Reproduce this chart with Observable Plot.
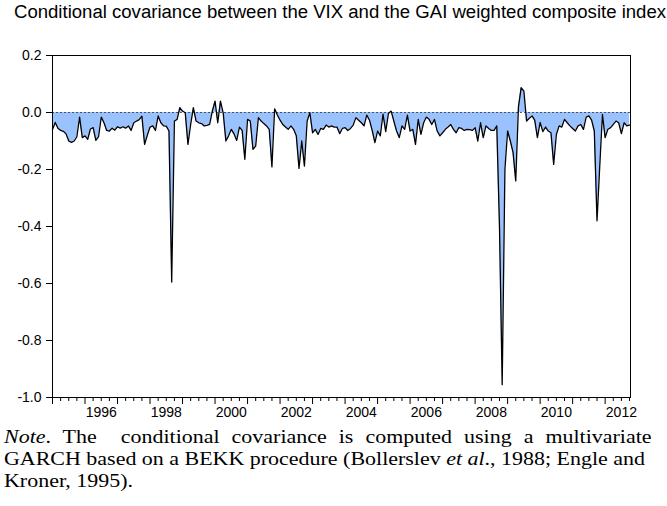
<!DOCTYPE html>
<html><head><meta charset="utf-8">
<script src="https://cdn.jsdelivr.net/npm/d3@7"></script>
<script src="https://cdn.jsdelivr.net/npm/@observablehq/plot@0.6"></script>
<style>
body{margin:0;background:#fff;width:667px;height:506px;position:relative;overflow:hidden;font-family:"Liberation Sans",Arial,sans-serif;}
#title{position:absolute;left:14px;top:2px;font-size:18px;white-space:nowrap;transform-origin:0 0;color:#000}
#chart{position:absolute;left:0;top:30px}
#note{position:absolute;left:4px;top:426px;font-family:"Liberation Serif","Times New Roman",serif;font-size:18px;line-height:22px;transform-origin:0 0;color:#000}
#note div{white-space:nowrap}
#note span.l{display:inline-block}
</style></head>
<body>
<div id="title">Conditional covariance between the VIX and the GAI weighted composite index</div>
<div id="chart"></div>
<div id="note">
<div><span class="l" id="n1"><i>Note</i>. The&nbsp; conditional covariance is computed using a multivariate</span></div>
<div><span class="l" id="n2">GARCH based on a BEKK procedure (Bollerslev <i>et al</i>., 1988; Engle and</span></div>
<div><span class="l" id="n3">Kroner, 1995).</span></div>
</div>
<script>
const startYear = 1995;
const covariance = [
 -0.06, -0.035, -0.055, -0.063, -0.066, -0.075, -0.1, -0.105, -0.1, -0.085,
 -0.016, -0.088, -0.082, -0.094, -0.058, -0.053, -0.098, -0.085, -0.016, -0.036,
 -0.063, -0.065, -0.055, -0.062, -0.05, -0.055, -0.05, -0.055, -0.047, -0.063,
 -0.036, -0.03, -0.025, -0.013, -0.112, -0.08, -0.051, -0.047, -0.063, -0.012,
 -0.036, -0.047, -0.048, -0.065, -0.595, -0.03, -0.024, 0.017, 0.005, -0.001,
 -0.112, -0.042, 0.017, -0.03, -0.036, -0.039, -0.047, -0.045, -0.042, 0.005,
 0.04, -0.036, 0.04, -0.001, -0.1, -0.082, -0.059, -0.075, -0.098, -0.051,
 -0.063, -0.164, -0.024,
 -0.03, -0.129, -0.118, -0.018, -0.03, -0.039, -0.047, -0.059, -0.191, 0.013,
 -0.009, -0.027, -0.042, -0.051, -0.059, -0.047, -0.059, -0.082, -0.196, -0.1,
 -0.188, -0.03, -0.001, -0.071, -0.059, -0.077, -0.056, -0.059, -0.044, -0.051,
 -0.047, -0.051, -0.051, -0.074, -0.056, -0.053, -0.063, -0.056, -0.044, -0.018,
 -0.027, -0.036, -0.047, -0.009, -0.027, -0.063, -0.106, -0.065, -0.082, -0.006,
 -0.067, -0.004, 0.005, -0.03, -0.065, -0.088, -0.047, -0.059, -0.009, -0.065,
 -0.059, -0.112, -0.024, -0.077,
 -0.036, -0.016, -0.024, -0.042, -0.024, -0.065, -0.082, -0.071, -0.059, -0.051,
 -0.042, -0.059, -0.071, -0.053, -0.056, -0.063, -0.059, -0.06, -0.063, -0.053,
 -0.1, -0.036, -0.088, -0.047, -0.056, -0.063, -0.063, -0.047,
 -0.4, -0.955, -0.2, -0.065, -0.1, -0.14, -0.24, 0.02, 0.087, 0.075,
 -0.03, -0.02, -0.012, -0.027, -0.088, -0.035, -0.067, -0.051, -0.065, -0.071,
 -0.182, -0.077, -0.047, -0.051, -0.024, -0.036, -0.047, -0.056, -0.065, -0.047,
 -0.042, -0.059, -0.016, -0.012, -0.027, -0.065, -0.38, -0.19, -0.007, -0.088,
 -0.059, -0.053, -0.042, -0.03, -0.036, -0.074, -0.036, -0.047, -0.044
];
const yTicks = [0.2, 0.0, -0.2, -0.4, -0.6, -0.8, -1.0];
const yearLabels = [1996, 1998, 2000, 2002, 2004, 2006, 2008, 2010, 2012];
const xDomain = [1995, 2012.78];

const data = covariance.map((v, i) => ({t: startYear + i / 12, v}));
const majorTicks = d3.range(1995, 2013);
const minorTicks = d3.range(1995, 2012.78, 0.25).filter(d => d % 1 !== 0);

const chart = Plot.plot({
  width: 667, height: 392,
  marginLeft: 52, marginRight: 37, marginTop: 25, marginBottom: 25,
  style: {fontFamily: "'Liberation Sans', Arial, sans-serif", fontSize: "14px", color: "#000", background: "#fff", overflow: "visible"},
  x: {domain: xDomain},
  y: {domain: [-1, 0.2]},
  marks: [
    Plot.areaY(data, {x: "t", y: "v", fill: "#99c2ff"}),
    Plot.ruleY([0], {stroke: "#333", strokeDasharray: "2,2", strokeWidth: 0.8}),
    Plot.lineY(data, {x: "t", y: "v", stroke: "#000", strokeWidth: 1.3}),
    Plot.frame({stroke: "#000", strokeWidth: 1}),
    Plot.axisY({ticks: yTicks, tickSize: 6, tickPadding: 5, tickFormat: d => d.toFixed(1), label: null}),
    Plot.axisX({ticks: majorTicks, tickSize: 7, tickFormat: () => "", label: null}),
    Plot.axisX({ticks: minorTicks, tickSize: 4, tickFormat: () => "", label: null}),
    Plot.axisX({ticks: yearLabels.map(y => y + 0.5), tickSize: 0, tickPadding: 10, tickFormat: d => String(Math.floor(d)), label: null})
  ]
});
document.getElementById("chart").appendChild(chart);

// fit title width
const title = document.getElementById("title");
const tw = title.getBoundingClientRect().width;
title.style.transform = `scaleX(${652 / tw})`;

// note: scale to line 2 width, justify line 1
const note = document.getElementById("note");
const n1 = document.getElementById("n1"), n2 = document.getElementById("n2");
const w2 = n2.getBoundingClientRect().width;
const s = 641 / w2;
const w1 = n1.getBoundingClientRect().width;
const spaces1 = (n1.textContent.match(/ /g) || []).length;
n1.style.wordSpacing = ((w2 - w1) / spaces1) + "px";
note.style.transform = `scaleX(${s})`;
</script>
</body></html>
